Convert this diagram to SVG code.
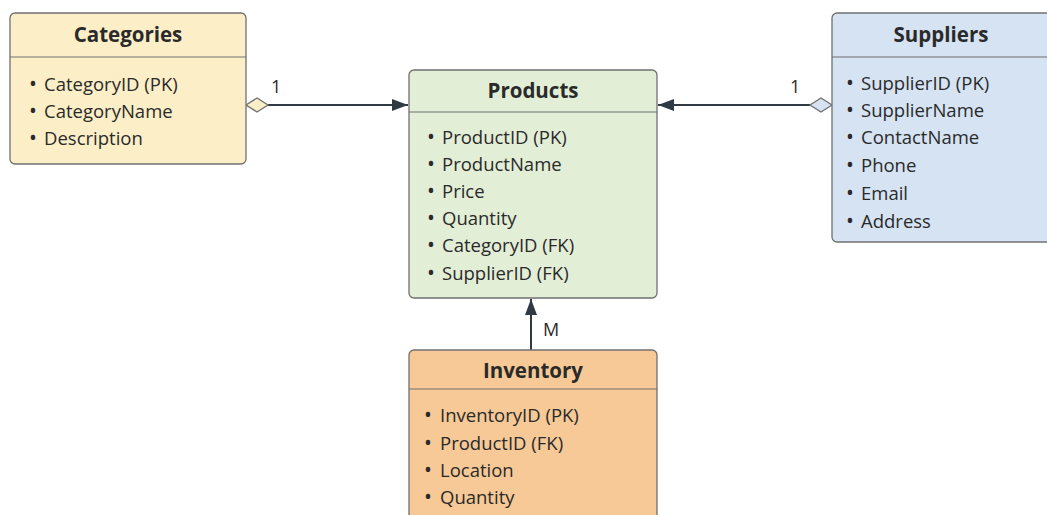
<svg xmlns="http://www.w3.org/2000/svg" width="1047" height="515" viewBox="0 0 1047 515">
<style>
.box{stroke:#707070;stroke-width:1.3}
.sep{stroke:#707070;stroke-width:1.2}
.title{font-family:"Open Sans","Noto Sans",sans-serif;font-weight:700;font-size:20.5px;fill:#2a2a2a;text-anchor:middle}
.item{font-family:"Open Sans","Noto Sans",sans-serif;font-size:18.5px;fill:#2a2a2a}
.b{font-size:21px}
.lbl{font-family:"Open Sans","Noto Sans",sans-serif;font-size:18px;fill:#2a2a2a}
.conn{stroke:#2f3a45;stroke-width:2;fill:none}
</style>
<defs>
<marker id="arr" viewBox="0 0 16 12" refX="16" refY="6" markerWidth="16" markerHeight="12" markerUnits="userSpaceOnUse" orient="auto">
<path d="M0,0 L16,6 L0,12 z" fill="#2f3a45"/>
</marker>
</defs>
<rect width="1047" height="515" fill="#ffffff"/>
<g id="connectors">
<line class="conn" x1="268" y1="105" x2="408" y2="105" marker-end="url(#arr)"/>
<path d="M246,105 L257,98 L268,105 L257,112 Z" fill="#fcefc7" stroke="#6f6f6f" stroke-width="1.3"/>
<text class="lbl" x="271" y="93">1</text>
<line class="conn" x1="810" y1="105" x2="658" y2="105" marker-end="url(#arr)"/>
<path d="M810,105 L821,98 L832,105 L821,112 Z" fill="#d5e3f3" stroke="#6f6f6f" stroke-width="1.3"/>
<text class="lbl" x="790" y="93">1</text>
<line class="conn" x1="531" y1="350" x2="531" y2="299" marker-end="url(#arr)"/>
<text class="lbl" x="543" y="336">M</text>
</g>
<g id="categories">
<rect class="box" x="10" y="13" width="236" height="151" rx="5" fill="#fcefc7"/>
<line class="sep" x1="10" y1="57" x2="246" y2="57"/>
<text class="title" x="128" y="42">Categories</text>
<text class="item" x="29" y="91"><tspan class="b">•</tspan><tspan x="44">CategoryID (PK)</tspan></text>
<text class="item" x="29" y="118"><tspan class="b">•</tspan><tspan x="44">CategoryName</tspan></text>
<text class="item" x="29" y="145"><tspan class="b">•</tspan><tspan x="44">Description</tspan></text>
</g>
<g id="products">
<rect class="box" x="409" y="70" width="248" height="228" rx="5" fill="#e3eed6"/>
<line class="sep" x1="409" y1="112" x2="657" y2="112"/>
<text class="title" x="533" y="98">Products</text>
<text class="item" x="427" y="144"><tspan class="b">•</tspan><tspan x="442">ProductID (PK)</tspan></text>
<text class="item" x="427" y="171"><tspan class="b">•</tspan><tspan x="442">ProductName</tspan></text>
<text class="item" x="427" y="198"><tspan class="b">•</tspan><tspan x="442">Price</tspan></text>
<text class="item" x="427" y="225"><tspan class="b">•</tspan><tspan x="442">Quantity</tspan></text>
<text class="item" x="427" y="252"><tspan class="b">•</tspan><tspan x="442">CategoryID (FK)</tspan></text>
<text class="item" x="427" y="280"><tspan class="b">•</tspan><tspan x="442">SupplierID (FK)</tspan></text>
</g>
<g id="suppliers">
<rect class="box" x="832" y="13" width="230" height="229" rx="5" fill="#d5e3f3"/>
<line class="sep" x1="832" y1="57" x2="1047" y2="57"/>
<text class="title" x="941" y="42">Suppliers</text>
<text class="item" x="846" y="90"><tspan class="b">•</tspan><tspan x="861">SupplierID (PK)</tspan></text>
<text class="item" x="846" y="117"><tspan class="b">•</tspan><tspan x="861">SupplierName</tspan></text>
<text class="item" x="846" y="144"><tspan class="b">•</tspan><tspan x="861">ContactName</tspan></text>
<text class="item" x="846" y="172"><tspan class="b">•</tspan><tspan x="861">Phone</tspan></text>
<text class="item" x="846" y="200"><tspan class="b">•</tspan><tspan x="861">Email</tspan></text>
<text class="item" x="846" y="228"><tspan class="b">•</tspan><tspan x="861">Address</tspan></text>
</g>
<g id="inventory">
<rect class="box" x="409" y="350" width="248" height="190" rx="5" fill="#f6c996"/>
<line class="sep" x1="409" y1="389" x2="657" y2="389"/>
<text class="title" x="533" y="378">Inventory</text>
<text class="item" x="424" y="422"><tspan class="b">•</tspan><tspan x="440">InventoryID (PK)</tspan></text>
<text class="item" x="424" y="450"><tspan class="b">•</tspan><tspan x="440">ProductID (FK)</tspan></text>
<text class="item" x="424" y="477"><tspan class="b">•</tspan><tspan x="440">Location</tspan></text>
<text class="item" x="424" y="504"><tspan class="b">•</tspan><tspan x="440">Quantity</tspan></text>
</g>
</svg>
